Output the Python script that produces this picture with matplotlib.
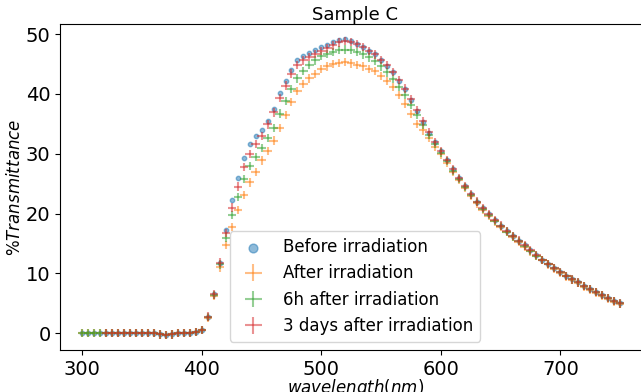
import matplotlib
matplotlib.use("Agg")
import matplotlib.pyplot as plt
import numpy as np

# wavelength grid (nm), 5 nm steps
wavelength = np.arange(300, 751, 5)

flat = [0.1, 0.1, 0.0, 0.1, 0.1, 0.0, 0.1, 0.1, 0.0, 0.1,
        0.0, 0.1, 0.0, -0.2, -0.3, -0.2, 0.0, 0.1, 0.1, 0.2]  # 300..395

tail = [30.5, 29.0, 27.4, 26.0, 24.6, 23.2, 22.0, 20.9, 19.9, 18.9,
        18.0, 17.1, 16.3, 15.5, 14.7, 13.9, 13.1, 12.3, 11.6, 10.9,
        10.2, 9.6, 9.0, 8.5, 7.9, 7.4, 6.9, 6.4, 5.9, 5.4, 5.0]  # 600..750

before = flat + [0.6, 2.8, 6.5, 11.8, 17.2, 22.2, 26.0, 29.3, 31.6, 32.9,
                 33.9, 35.4, 37.5, 40.1, 42.2, 44.0, 45.7, 46.3, 46.8, 47.3,
                 47.8, 48.1, 48.6, 49.0, 49.2, 48.9, 48.4, 47.8, 47.2, 46.6,
                 45.6, 44.7, 43.6, 42.2, 40.8, 39.0, 37.2, 35.3, 33.5, 31.9] + tail

after = flat + [0.5, 2.6, 6.2, 11.0, 14.8, 17.8, 20.6, 23.1, 25.2, 27.0,
                28.9, 30.5, 32.2, 34.3, 36.5, 38.7, 40.5, 41.7, 42.6, 43.3,
                44.2, 44.6, 45.0, 45.2, 45.3, 45.1, 44.8, 44.6, 44.2, 43.8,
                43.0, 42.2, 41.2, 39.8, 38.4, 36.6, 35.0, 33.9, 32.6, 31.2,
                29.9, 28.5, 27.0, 25.6, 24.3, 22.9, 21.7, 20.6, 19.6, 18.7,
                17.8, 16.9, 16.1, 15.3, 14.5, 13.7, 12.9, 12.2, 11.5, 10.8,
                10.1, 9.5, 8.9, 8.4, 7.8, 7.3, 6.8, 6.3, 5.8, 5.3, 4.9]

h6 = flat + [0.5, 2.7, 6.4, 11.5, 16.0, 19.8, 22.8, 25.8, 28.0, 29.5,
             31.0, 32.6, 34.3, 36.7, 38.8, 40.8, 42.6, 43.8, 44.8, 45.6,
             46.3, 46.7, 47.0, 47.3, 47.4, 47.3, 47.0, 46.6, 46.1, 45.5,
             44.6, 43.6, 42.5, 41.2, 39.8, 38.2, 36.5, 34.8, 33.1, 31.6,
             30.2, 28.8, 27.2, 25.8, 24.4, 23.1, 21.9, 20.8, 19.8, 18.8,
             17.9, 17.0, 16.2, 15.4, 14.6, 13.8, 13.0, 12.3, 11.6, 10.9,
             10.2, 9.6, 9.0, 8.5, 7.9, 7.4, 6.9, 6.4, 5.9, 5.4, 5.0]

days3 = flat[4:] + [0.6, 2.8, 6.5, 11.8, 16.8, 21.0, 24.5, 27.8, 30.0, 31.6,
                    33.0, 34.9, 36.9, 39.3, 41.4, 43.4, 44.8, 45.6, 46.2, 46.7,
                    47.2, 47.6, 48.1, 48.6, 48.8, 48.7, 48.3, 47.8, 47.2, 46.6,
                    45.7, 44.8, 43.7, 42.3, 40.9, 39.1, 37.3, 35.4, 33.6, 32.0] + tail
wl_days3 = wavelength[4:]

plt.figure(figsize=(6.41, 3.92), dpi=100)
ax = plt.axes([0.094, 0.107, 0.92, 0.832])

ax.scatter(wavelength, before, s=10, alpha=0.5, label='Before irradiation')
ax.errorbar(wavelength, after, xerr=3.5, yerr=0.7, fmt='none', alpha=0.5,
            color='C1', label='After irradiation')
ax.errorbar(wavelength, h6, xerr=3.5, yerr=0.7, fmt='none', alpha=0.5,
            color='C2', label='6h after irradiation')
ax.errorbar(wl_days3, days3, xerr=3.5, yerr=0.7, fmt='none', alpha=0.5,
            color='C3', label='3 days after irradiation')

ax.set_xlim(281.5, 775)
ax.set_ylim(-2.8, 51.7)
ax.set_title('Sample C', fontsize=13, pad=3)
ax.set_xlabel('$wavelength (nm)$', fontsize=12, labelpad=-1)
ax.set_ylabel('$\\%Transmittance$', fontsize=12, labelpad=1)
ax.tick_params(labelsize=14)
ax.legend(loc='lower center', fontsize=12, markerscale=2)

plt.savefig('out.png', dpi=100)
